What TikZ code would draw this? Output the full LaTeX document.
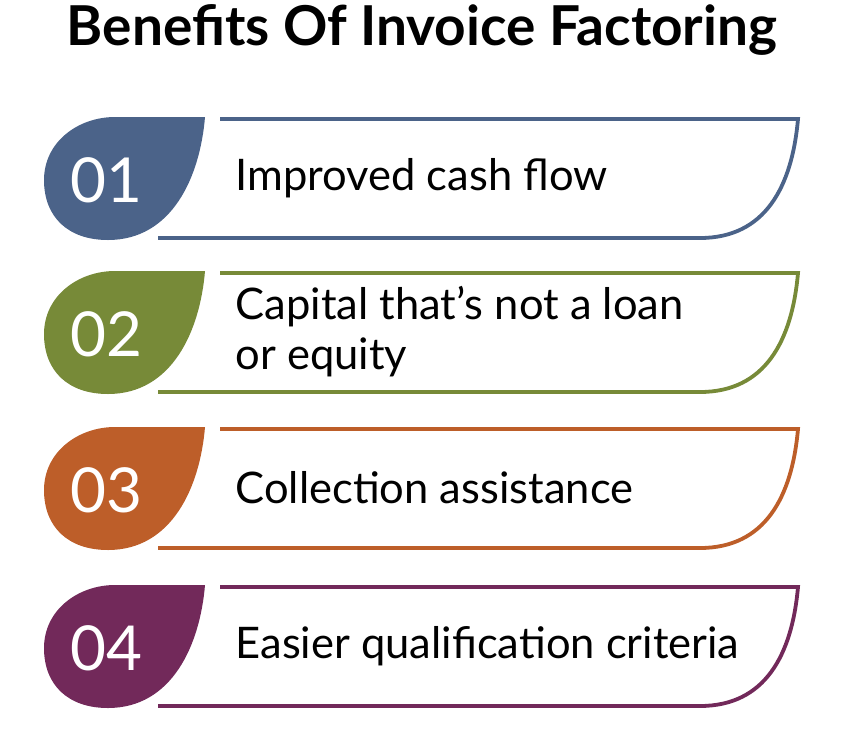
\documentclass[tikz,border=0pt]{standalone}
\usepackage{fontspec}
\setmainfont{Lato}
\usepackage{xcolor}
\definecolor{rowblue}{HTML}{4B6389}
\definecolor{rowgreen}{HTML}{778A38}
\definecolor{roworange}{HTML}{BD5E29}
\definecolor{rowpurple}{HTML}{72295A}
\begin{document}
\begin{tikzpicture}[x=1pt,y=-1pt,
  numtext/.style={text=white,font=\fontsize{62}{62}\selectfont,anchor=center},
  itemtext/.style={anchor=west,align=left,font=\fontsize{43.5}{50}\selectfont}]
\useasboundingbox (0,0) rectangle (847,729);
\node[font=\bfseries\fontsize{55}{60}\selectfont] (title) at (422,30) {Benefits Of Invoice Factoring};

\foreach \t/\c/\n/\txt [count=\i] in {117/rowblue/01/Improved cash flow,
  271/rowgreen/02/{Capital that’s not a loan\\or equity},
  427/roworange/03/Collection assistance,
  585/rowpurple/04/Easier qualification criteria}{
\fill[\c] (44,\t+63) .. controls (44,\t+25) and (78,\t) .. (115,\t) -- (205,\t)
  .. controls (200,\t+60) and (172,\t+123) .. (108,\t+123)
  .. controls (68,\t+123) and (44,\t+100) .. (44,\t+63);
\draw[\c,line width=3.8pt] (220,\t+2) -- (798,\t+2)
  .. controls (792,\t+70) and (765,\t+121) .. (700,\t+121) -- (158,\t+121);
\node[numtext] (num\i) at (106,\t+63) {\n};
\node[itemtext] (item\i) at (232,\t+61) {\txt};
}
\end{tikzpicture}
\end{document}
